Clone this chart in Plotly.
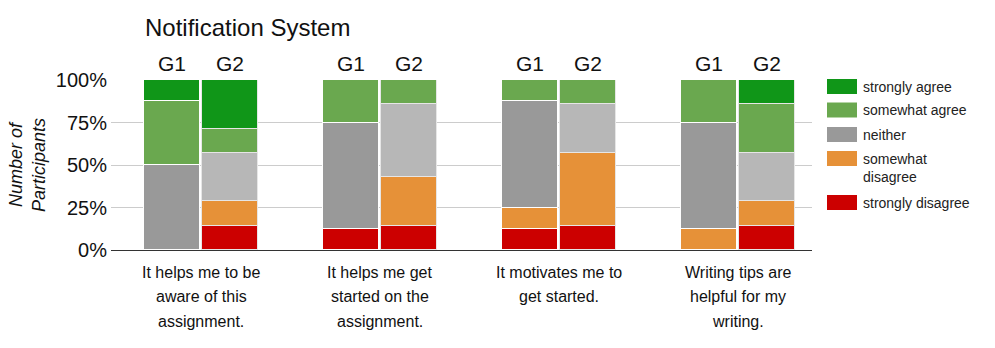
import plotly.graph_objects as go

# ---------------- data ----------------
categories = [
    "It helps me to be<br>aware of this<br>assignment.",
    "It helps me get<br>started on the<br>assignment.",
    "It motivates me to<br>get started.",
    "Writing tips are<br>helpful for my<br>writing.",
]
groups = ["G1", "G2"]
responses = ["strongly disagree", "somewhat disagree", "neither", "somewhat agree", "strongly agree"]

# percentages of participants, per category
g1_strongly_disagree = [0, 12.5, 12.5, 0]
g1_somewhat_disagree = [0, 0, 12.5, 12.5]
g1_neither = [50, 62.5, 62.5, 62.5]
g1_somewhat_agree = [37.5, 25, 12.5, 25]
g1_strongly_agree = [12.5, 0, 0, 0]

g2_strongly_disagree = [14.29, 14.29, 14.29, 14.29]
g2_somewhat_disagree = [14.29, 28.57, 42.86, 14.29]
g2_neither = [28.57, 42.86, 28.57, 28.57]
g2_somewhat_agree = [14.29, 14.29, 14.29, 28.57]
g2_strongly_agree = [28.57, 0, 0, 14.29]

y_ticks = [0, 25, 50, 75, 100]
y_tick_labels = ["0%", "25%", "50%", "75%", "100%"]

# ---------------- styles ----------------
g1_colors = ["#cc0000", "#e69138", "#999999", "#6aa84f", "#109618"]
g2_colors = ["#cc0000", "#e69138", "#b7b7b7", "#6aa84f", "#109618"]
legend_colors = ["#109618", "#6aa84f", "#999999", "#e69138", "#cc0000"]
legend_labels = ["strongly agree", "somewhat agree", "neither", "somewhat<br>disagree", "strongly disagree"]

FONT = "Liberation Sans, Arial, sans-serif"

W, H = 995, 348
L, R, T, B = 111, 183, 80, 98
PW, PH = W - L - R, H - T - B

def px_x(p):
    return (p - L) / PW

def px_y(p):
    return (H - B - p) / PH

g1_series = [g1_strongly_disagree, g1_somewhat_disagree, g1_neither, g1_somewhat_agree, g1_strongly_agree]
g2_series = [g2_strongly_disagree, g2_somewhat_disagree, g2_neither, g2_somewhat_agree, g2_strongly_agree]

offset = 0.162
bar_w = 0.315
idx = list(range(len(categories)))

fig = go.Figure()
for gi, (series_list, colors, line_col) in enumerate(
    [(g1_series, g1_colors, "#ffffff"), (g2_series, g2_colors, "#e6e6e6")]
):
    sign = -1 if gi == 0 else 1
    xs = [i + sign * offset for i in idx]
    for resp, vals, col in zip(responses, series_list, colors):
        fig.add_trace(go.Bar(
            x=xs,
            y=[v if v else None for v in vals],
            name=resp,
            width=bar_w,
            marker=dict(color=col, line=dict(color=line_col, width=1)),
            showlegend=False,
            hoverinfo="skip",
        ))

annotations = []
# G1 / G2 labels above bars
for i in idx:
    for gi, g in enumerate(groups):
        sign = -1 if gi == 0 else 1
        annotations.append(dict(
            x=i + sign * offset, y=px_y(64), xref="x", yref="paper",
            text=g, showarrow=False, xanchor="center", yanchor="middle",
            font=dict(size=21, color="#111", family=FONT),
        ))

# category labels under the axis (one annotation per text line for spacing)
for i, cat in zip(idx, categories):
    for k, line in enumerate(cat.split("<br>")):
        annotations.append(dict(
            x=i, y=px_y(272 + 24.5 * k), xref="x", yref="paper",
            text=line, showarrow=False, xanchor="center", yanchor="middle",
            font=dict(size=16, color="#111", family=FONT),
        ))

# y-axis title
annotations.append(dict(
    x=px_x(27), y=0.5, xref="paper", yref="paper",
    text="<i>Number of<br>Participants</i>", showarrow=False, textangle=-90,
    xanchor="center", yanchor="middle",
    font=dict(size=18, color="#111", family=FONT),
))

# custom legend
shapes = []
legend_y_centers = [86.5, 110, 134.5, 158.5, 202.5]
for lab, col, yc in zip(legend_labels, legend_colors, legend_y_centers):
    shapes.append(dict(
        type="rect", xref="paper", yref="paper",
        x0=px_x(827), x1=px_x(857), y0=px_y(yc + 7.5), y1=px_y(yc - 7.5),
        fillcolor=col, line=dict(width=0),
    ))
    annotations.append(dict(
        x=px_x(861), y=px_y(yc - 10), xref="paper", yref="paper",
        text=lab, showarrow=False, xanchor="left", yanchor="top", align="left",
        font=dict(size=14, color="#222", family=FONT),
    ))

fig.update_layout(
    width=W, height=H,
    margin=dict(l=L, r=R, t=T, b=B, autoexpand=False),
    paper_bgcolor="white", plot_bgcolor="white",
    barmode="stack",
    bargap=0,
    font=dict(family=FONT, color="#111"),
    title=dict(
        text="Notification System", xref="paper", x=px_x(145), xanchor="left",
        yref="container", y=1 - 28 / H, yanchor="middle",
        font=dict(size=24, color="#111", family=FONT),
    ),
    xaxis=dict(
        range=[-0.503, 3.413],
        tickmode="array", tickvals=idx, ticktext=categories,
        showticklabels=False,
        showgrid=False, zeroline=False,
        showline=True, linecolor="#333", linewidth=1,
        ticks="",
        fixedrange=True,
    ),
    yaxis=dict(
        range=[0, 100],
        tickmode="array", tickvals=y_ticks, ticktext=y_tick_labels,
        tickfont=dict(size=20, color="#111", family=FONT),
        showgrid=True, gridcolor="#cccccc", gridwidth=1,
        zeroline=False, showline=False, ticks="",
        ticklabelstandoff=3,
        fixedrange=True,
    ),
    annotations=annotations,
    shapes=shapes,
)

fig.write_html(
    "out.html",
    config={"displayModeBar": False},
    post_script="document.body.style.margin='0';document.body.style.overflow='hidden';",
)
